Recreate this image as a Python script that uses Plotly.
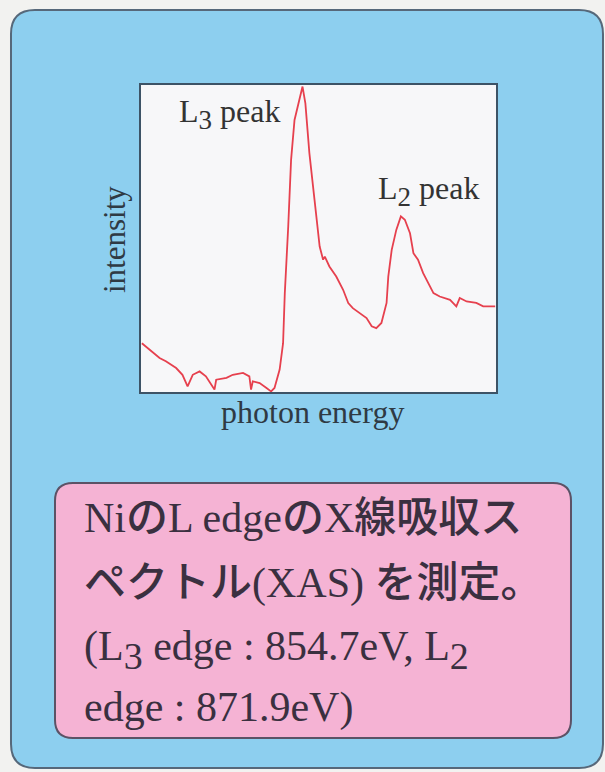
import plotly.graph_objects as go

# Ni L-edge X-ray absorption spectrum (photon energy in eV, intensity in arbitrary units)
energy_ev = [
    826.6, 827.9, 829.7, 830.8, 832.6, 833.7, 834.6, 835.5, 836.7, 837.8,
    839.3, 839.6, 841.4, 842.5, 844.3, 845.4, 845.7, 846.0, 847.2, 848.4,
    849.2, 849.8, 850.7, 851.3, 851.6, 852.2, 852.7, 853.3, 854.2, 854.7,
    855.2, 855.9, 856.8, 857.7, 858.3, 858.6, 859.4, 860.6, 861.8, 862.7,
    863.5, 864.7, 865.9, 866.8, 867.6, 868.5, 869.4, 869.7, 870.3, 871.1,
    871.9, 872.6, 873.5, 874.1, 874.9, 875.8, 876.7, 877.6, 878.7, 880.5,
    881.6, 882.2, 883.4, 885.1, 886.3, 888.4,
]
intensity = [
    15.9, 13.8, 11.1, 10.0, 7.8, 5.6, 1.8, 5.6, 6.7, 5.1,
    0.8, 4.0, 4.6, 5.6, 6.2, 5.1, 0.8, 3.5, 2.9, 1.3,
    0.2, 1.3, 7.3, 15.9, 32.2, 53.9, 75.6, 88.6, 96.2, 99.5,
    94.0, 77.8, 62.6, 47.4, 43.1, 44.1, 40.9, 37.6, 33.3, 29.0,
    27.3, 25.7, 24.1, 21.4, 20.8, 22.5, 29.0, 37.6, 46.3, 52.8,
    57.2, 56.1, 51.7, 45.2, 43.1, 38.7, 35.5, 32.2, 31.1, 30.0,
    27.9, 30.6, 29.5, 29.0, 27.9, 27.9,
]


def sub(s, size):
    """Subscript drawn close to full size, as in the printed figure."""
    return f"<sub><span style='font-size:{size}px'>{s}</span></sub>"


peak_labels = [f"L{sub('3', 27)} peak", f"L{sub('2', 27)} peak"]
peak_label_pos = [(842.0, 90.5), (876.8, 65.5)]

caption_lines = [
    "NiのL edgeのX線吸収ス",
    "ペクトル(XAS) を測定。",
    f"(L{sub('3', 38)} edge : 854.7eV, L{sub('2', 38)}",
    "edge : 871.9eV)",
]

W, H = 605, 772
SERIF = "Liberation Serif, Times New Roman, serif"
MIXED = "Liberation Serif, Noto Sans CJK JP, serif"


def px(x, y):
    return x / W, 1 - y / H


def rounded_rect(x0, y0, x1, y1, r):
    pts = [
        ("M", [(x0 + r, y0)]),
        ("L", [(x1 - r, y0)]),
        ("Q", [(x1, y0), (x1, y0 + r)]),
        ("L", [(x1, y1 - r)]),
        ("Q", [(x1, y1), (x1 - r, y1)]),
        ("L", [(x0 + r, y1)]),
        ("Q", [(x0, y1), (x0, y1 - r)]),
        ("L", [(x0, y0 + r)]),
        ("Q", [(x0, y0), (x0 + r, y0)]),
    ]
    parts = []
    for cmd, coords in pts:
        s = " ".join(f"{px(a, b)[0]:.5f},{px(a, b)[1]:.5f}" for a, b in coords)
        parts.append(f"{cmd} {s}")
    return " ".join(parts) + " Z"


# plot area in pixels
PL, PR, PT, PB = 141, 496, 85, 392

fig = go.Figure()
fig.add_trace(go.Scatter(
    x=energy_ev, y=intensity, mode="lines",
    line=dict(color="#e6404e", width=1.8),
    hoverinfo="skip", showlegend=False,
))

shapes = [
    # blue panel
    dict(type="path", xref="paper", yref="paper", layer="below",
         path=rounded_rect(11, 10, 603, 768, 24),
         fillcolor="#8dcfef", line=dict(color="#56687a", width=2)),
    # plot area background
    dict(type="rect", xref="paper", yref="paper", layer="below",
         x0=PL / W, x1=PR / W, y0=1 - PB / H, y1=1 - PT / H,
         fillcolor="#f7f7f9", line=dict(width=0)),
    # caption box
    dict(type="path", xref="paper", yref="paper", layer="below",
         path=rounded_rect(55, 483, 571, 738, 18),
         fillcolor="#f5b3d4", line=dict(color="#5c5266", width=2)),
]

annotations = []
for text, (ex, iy) in zip(peak_labels, peak_label_pos):
    annotations.append(dict(
        x=ex, y=iy, xref="x", yref="y", text=text, showarrow=False,
        xanchor="center", yanchor="middle",
        font=dict(family=SERIF, size=32, color="#333333"),
    ))

annotations.append(dict(
    x=114 / W, y=1 - 240 / H, xref="paper", yref="paper", text="intensity",
    showarrow=False, textangle=-90, xanchor="center", yanchor="middle",
    font=dict(family=SERIF, size=31, color="#2f3a44"),
))
annotations.append(dict(
    x=312 / W, y=1 - 412 / H, xref="paper", yref="paper", text="photon energy",
    showarrow=False, xanchor="center", yanchor="middle",
    font=dict(family=SERIF, size=32, color="#2f3a44"),
))

for text, yc in zip(caption_lines, [518, 583, 650, 707]):
    annotations.append(dict(
        x=82 / W, y=1 - yc / H, xref="paper", yref="paper", text=text,
        showarrow=False, xanchor="left", yanchor="middle", align="left",
        font=dict(family=MIXED, size=42, color="#3a3040", weight=500),
    ))

axis_common = dict(
    showgrid=False, zeroline=False, showticklabels=False, ticks="",
    showline=True, mirror=True, linecolor="#3d5366", linewidth=2,
    fixedrange=True,
)

fig.update_layout(
    width=W, height=H,
    margin=dict(l=0, r=0, t=0, b=0),
    paper_bgcolor="#f2f2f0",
    plot_bgcolor="rgba(0,0,0,0)",
    xaxis=dict(domain=[PL / W, PR / W], range=[826.45, 888.54], **axis_common),
    yaxis=dict(domain=[1 - PB / H, 1 - PT / H], range=[0, 100], **axis_common),
    shapes=shapes,
    annotations=annotations,
)

fig.write_html("out.html", config={"displayModeBar": False})
